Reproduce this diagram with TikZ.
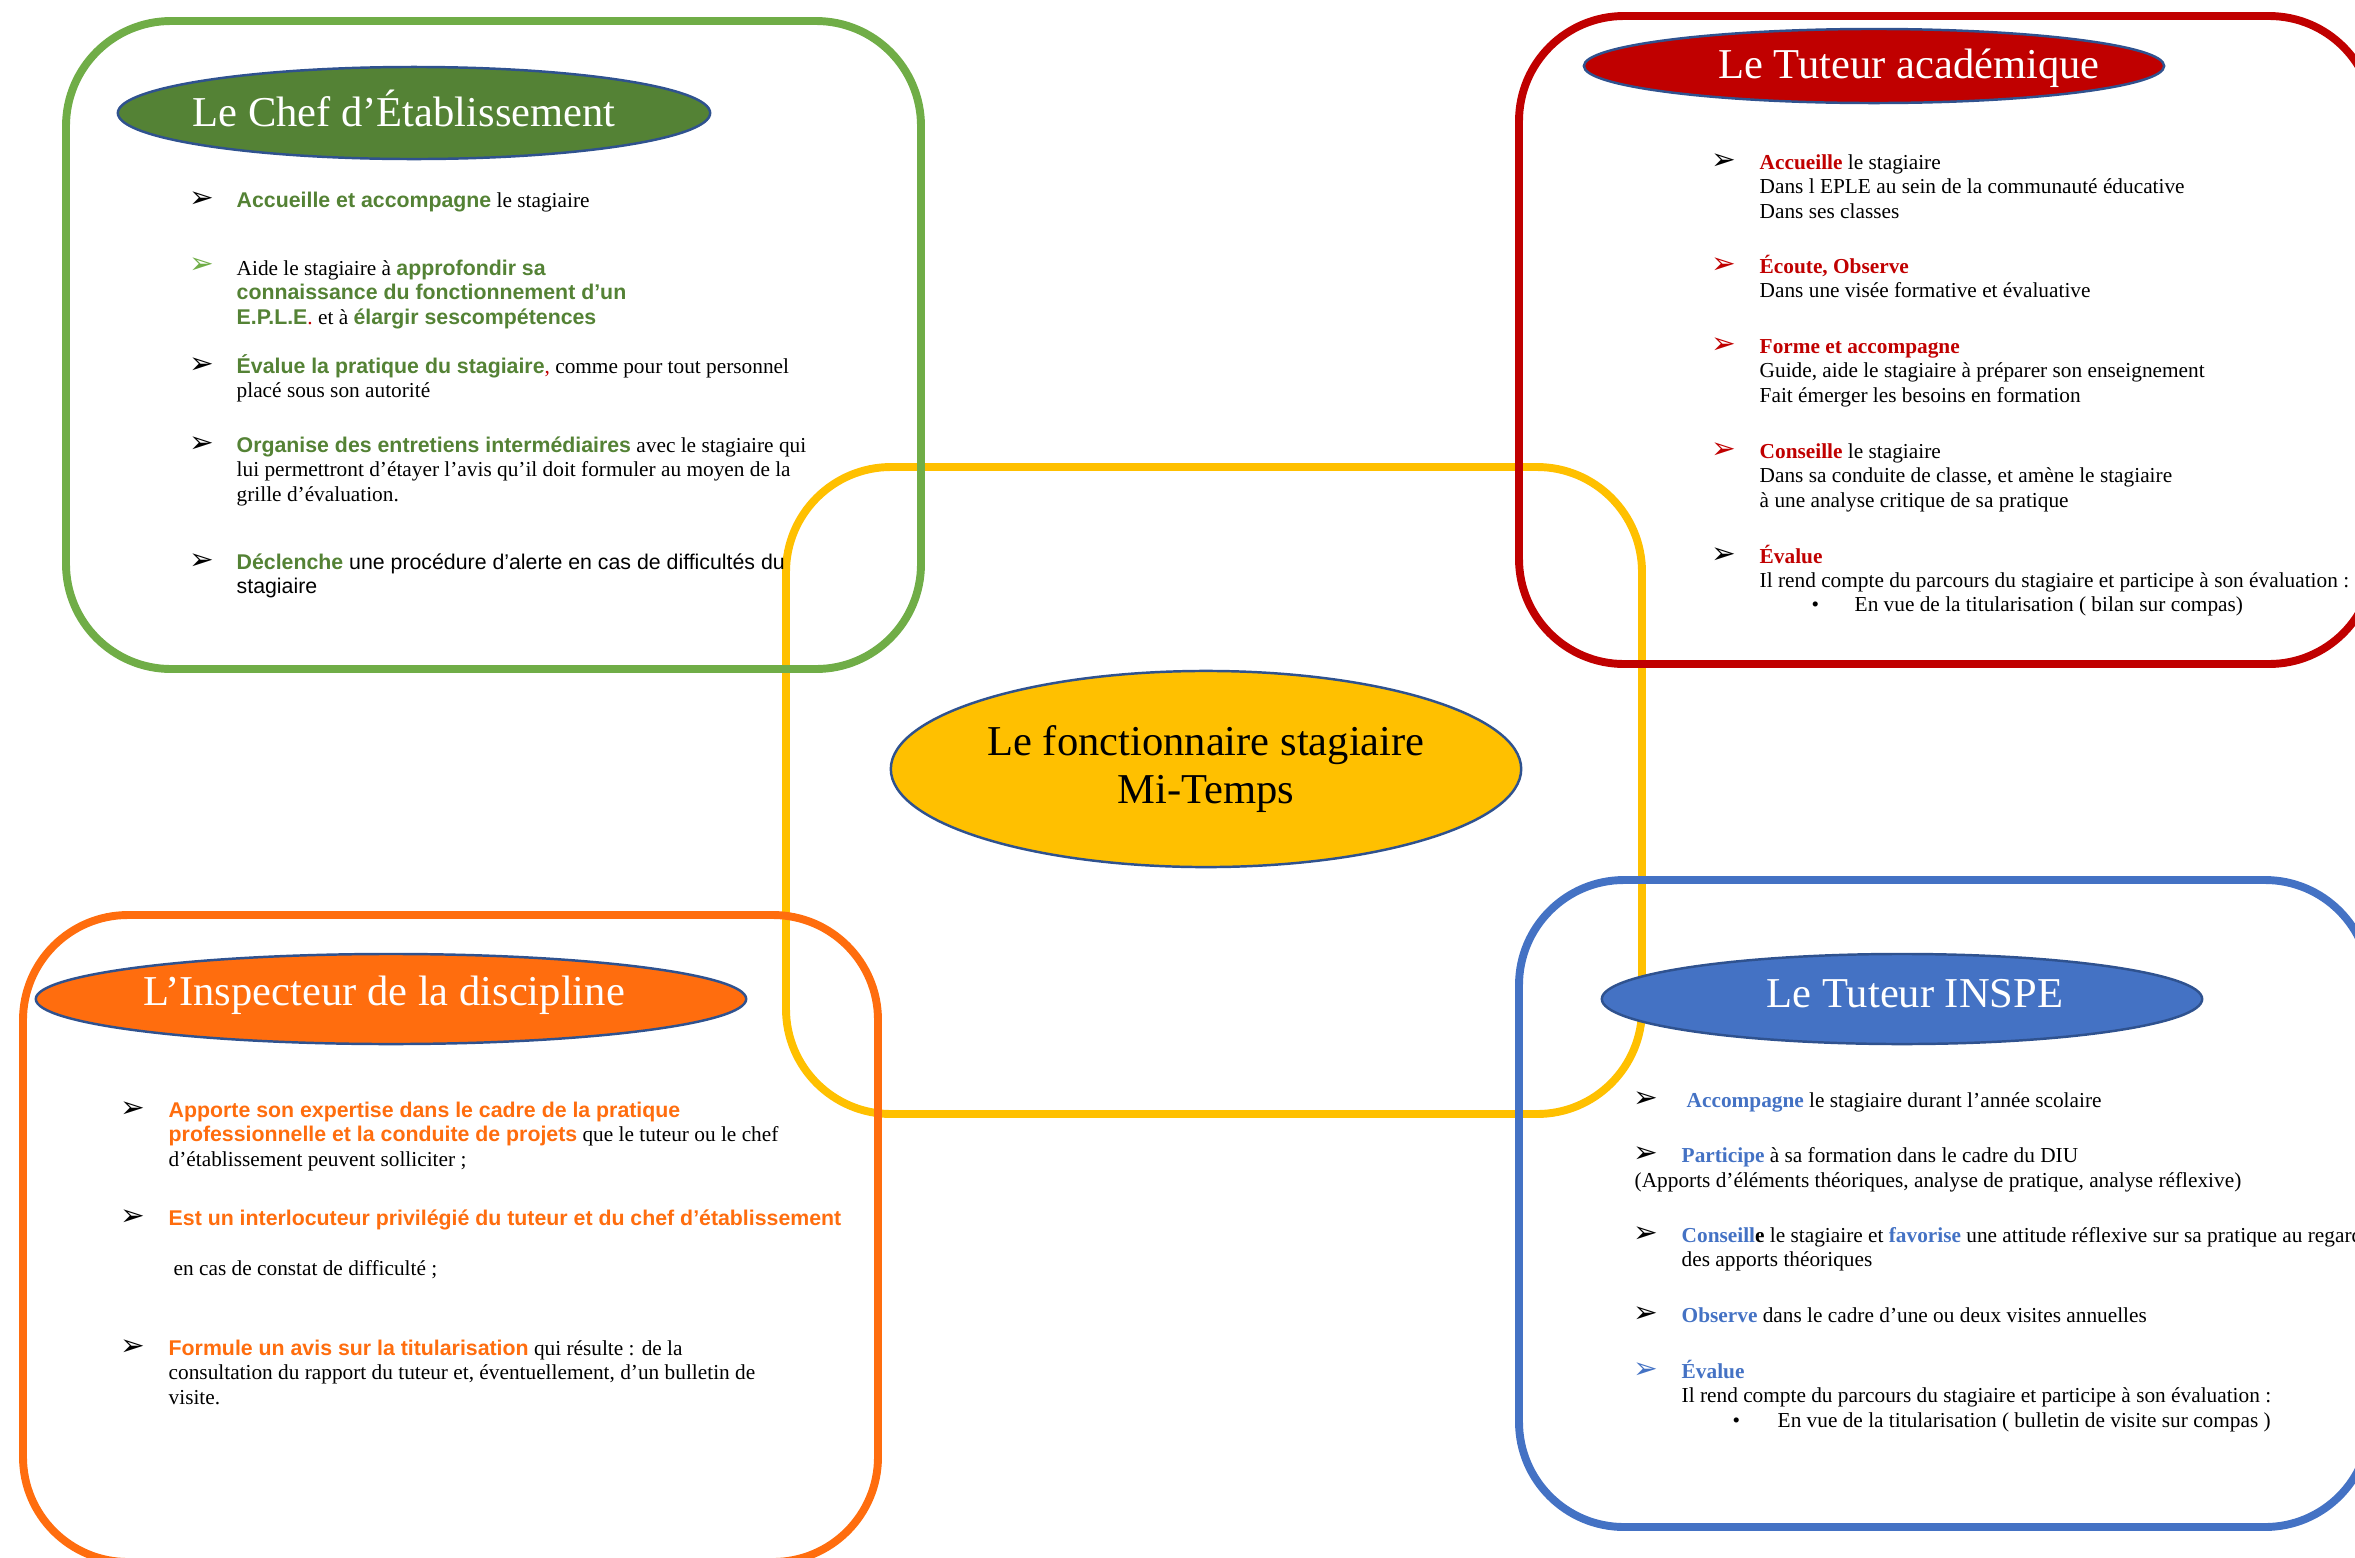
\documentclass[tikz,border=0pt]{standalone}
\usepackage{xcolor}
\usepackage{fontspec}
\setmainfont{Liberation Serif}
\setsansfont{Liberation Sans}
\newfontfamily\dingfont{DejaVu Sans}
\usepackage{tikz}
\usetikzlibrary{shapes.geometric}
\definecolor{chefline}{HTML}{70AD47}
\definecolor{chefdark}{HTML}{548235}
\definecolor{acadred}{HTML}{C00000}
\definecolor{inspeblue}{HTML}{4472C4}
\definecolor{inspor}{HTML}{FF6D0E}
\definecolor{stagyellow}{HTML}{FFC000}
\definecolor{ovalrim}{HTML}{2F528F}

\newcommand{\itemsize}{\fontsize{6.06}{6.97}\selectfont}
\newcommand{\gmot}[1]{{\sffamily\bfseries\color{chefdark}#1}}
\newcommand{\rmot}[1]{{\bfseries\color{acadred}#1}}
\newcommand{\omot}[1]{{\sffamily\bfseries\color{inspor}#1}}
\newcommand{\bmot}[1]{{\bfseries\color{inspeblue}#1}}
\newcommand{\lignes}[1]{\begin{tabular}[t]{@{}l@{}}#1\end{tabular}}

\begin{document}
\begin{tikzpicture}[
            x=0.01cm, y=-0.01cm,
            panel/.style={line width=2.25pt, rounded corners=1.05cm},
            role/.style={ellipse, draw=ovalrim, line width=0.7pt, inner sep=0pt},
            title/.style={anchor=base, inner sep=0pt, text=white,
                    font=\fontsize{12.1}{13.9}\selectfont},
            item/.style={anchor=base west, inner sep=0pt, font=\itemsize},
            sansitem/.style={item, font=\itemsize\sffamily},
            tip/.style={anchor=base west, inner sep=0pt, font=\fontsize{8.4}{9}\dingfont}
        ]
        \useasboundingbox (0,0) rectangle (2355,1557);
        \clip (0,0) rectangle (2355,1557);

        % =============== cadre central ===============
        \draw[panel, draw=stagyellow] (786,467) rectangle (1642,1114);

        % =============== cadres des acteurs ===============
        \draw[panel, draw=chefline]  (66,21)    rectangle (921,669);
        \draw[panel, draw=acadred]   (1519,16)  rectangle (2374,664);
        \draw[panel, draw=inspor]    (23,915)   rectangle (878,1562);
        \draw[panel, draw=inspeblue] (1519,880) rectangle (2370,1527);

        % =============== ellipses ===============
        \node[role, fill=stagyellow, align=center, minimum width=6.3cm,
            minimum height=1.96cm, font=\fontsize{12.1}{13.9}\selectfont]
        (stag) at (1206,769) {Le fonctionnaire stagiaire\\Mi-Temps};
        \node[role, fill=chefdark, minimum width=5.92cm, minimum height=0.92cm] (chef) at (414,113) {};
        \node[role, fill=acadred, minimum width=5.8cm, minimum height=0.74cm] (acad) at (1874,66) {};
        \node[role, fill=inspor, minimum width=7.1cm, minimum height=0.9cm] (insp) at (391,999) {};
        \node[role, fill=inspeblue, minimum width=6.0cm, minimum height=0.9cm] (inspe) at (1902,999) {};
        \node[title] (cheft) at (404,126) {Le Chef d’Établissement};
        \node[title] (acadt) at (1909,78) {Le Tuteur académique};
        \node[title] (inspt) at (384,1005) {L’Inspecteur de la discipline};
        \node[title] (inspet) at (1915,1007) {Le Tuteur INSPE};

        % =============== chef d'établissement ===============
        \node[tip] (ct1) at (189,207) {➢};
        \node[item] (c1) at (236,207) {\gmot{Accueille et accompagne} le stagiaire};
        \node[tip, text=chefline] (ct2) at (189,273) {➢};
        \node[item] (c2) at (236,275) {\lignes{Aide le stagiaire à \gmot{approfondir sa}\\
            \gmot{connaissance du fonctionnement d’un}\\
            \gmot{E.P.L.E}\textcolor{acadred}{.} et à \gmot{élargir sescompétences}}};
        \node[tip] (ct3) at (189,373) {➢};
        \node[item] (c3) at (236,373) {\lignes{\gmot{Évalue la pratique du stagiaire}\textcolor{acadred}{,}
            comme pour tout personnel\\placé sous son autorité}};
        \node[tip] (ct4) at (189,452) {➢};
        \node[item] (c4) at (236,452) {\lignes{\gmot{Organise des entretiens intermédiaires} avec le stagiaire qui\\
            lui permettront d’étayer l’avis qu’il doit formuler au moyen de la\\
            grille d’évaluation.}};
        \node[tip] (ct5) at (189,569) {➢};
        \node[sansitem] (c5) at (236,569) {\lignes{\gmot{Déclenche} une procédure d’alerte en cas de difficultés du\\
            stagiaire}};

        % =============== tuteur académique ===============
        \node[tip] (at1) at (1711,169) {➢};
        \node[item] (a1) at (1759,169) {\lignes{\rmot{Accueille} le stagiaire\\
            Dans l EPLE au sein de la communauté éducative\\Dans ses classes}};
        \node[tip, text=acadred] (at2) at (1711,273) {➢};
        \node[item] (a2) at (1759,273) {\lignes{\rmot{Écoute, Observe}\\
            Dans une visée formative et évaluative}};
        \node[tip, text=acadred] (at3) at (1711,353) {➢};
        \node[item] (a3) at (1759,353) {\lignes{\rmot{Forme et accompagne}\\
            Guide, aide le stagiaire à préparer son enseignement\\
            Fait émerger les besoins en formation}};
        \node[tip, text=acadred] (at4) at (1711,458) {➢};
        \node[item] (a4) at (1759,458) {\lignes{\rmot{Conseille} le stagiaire\\
            Dans sa conduite de classe, et amène le stagiaire\\
            à une analyse critique de sa pratique}};
        \node[tip] (at5) at (1711,563) {➢};
        \node[item] (a5) at (1759,563) {\lignes{\rmot{Évalue}\\
            Il rend compte du parcours du stagiaire et participe à son évaluation :}};
        \node[item] (ab5) at (1811,611) {•};
        \node[item] (a6) at (1854,611) {En vue de la titularisation ( bilan sur compas)};

        % =============== inspecteur ===============
        \node[tip] (it1) at (120,1117) {➢};
        \node[item] (i1) at (168,1117) {\lignes{\omot{Apporte son expertise dans le cadre de la pratique}\\
            \omot{professionnelle et la conduite de projets} que le tuteur ou le chef\\
            d’établissement peuvent solliciter ;}};
        \node[tip] (it2) at (120,1225) {➢};
        \node[item] (i2) at (168,1225)
        {\omot{Est un interlocuteur privilégié du tuteur et du chef d’établissement}};
        \node[item] (i3) at (173,1275) {en cas de constat de difficulté ;};
        \node[tip] (it4) at (120,1355) {➢};
        \node[item] (i4) at (168,1355) {\lignes{\omot{Formule un avis sur la titularisation} qui résulte : de la\\
            consultation du rapport du tuteur et, éventuellement, d’un bulletin de\\
            visite.}};

        % =============== tuteur INSPE ===============
        \node[tip] (bt1) at (1633,1107) {➢};
        \node[item] (b1) at (1686,1107) {\bmot{Accompagne} le stagiaire durant l’année scolaire};
        \node[tip] (bt2) at (1633,1162) {➢};
        \node[item] (b2) at (1681,1162) {\bmot{Participe} à sa formation dans le cadre du DIU};
        \node[item] (b3) at (1634,1187)
        {(Apports d’éléments théoriques, analyse de pratique, analyse réflexive)};
        \node[tip] (bt4) at (1633,1242) {➢};
        \node[item] (b4) at (1681,1242) {\lignes{\bmot{Conseill}\textbf{e} le stagiaire et \bmot{favorise}
            une attitude réflexive sur sa pratique au regard\\des apports théoriques}};
        \node[tip] (bt5) at (1633,1322) {➢};
        \node[item] (b5) at (1681,1322) {\bmot{Observe} dans le cadre d’une ou deux visites annuelles};
        \node[tip, text=inspeblue] (bt6) at (1633,1378) {➢};
        \node[item] (b6) at (1681,1378) {\lignes{\bmot{Évalue}\\
            Il rend compte du parcours du stagiaire et participe à son évaluation :}};
        \node[item] (bb6) at (1732,1427) {•};
        \node[item] (b7) at (1777,1427) {En vue de la titularisation ( bulletin de visite sur compas )};

    \end{tikzpicture}
\end{document}
